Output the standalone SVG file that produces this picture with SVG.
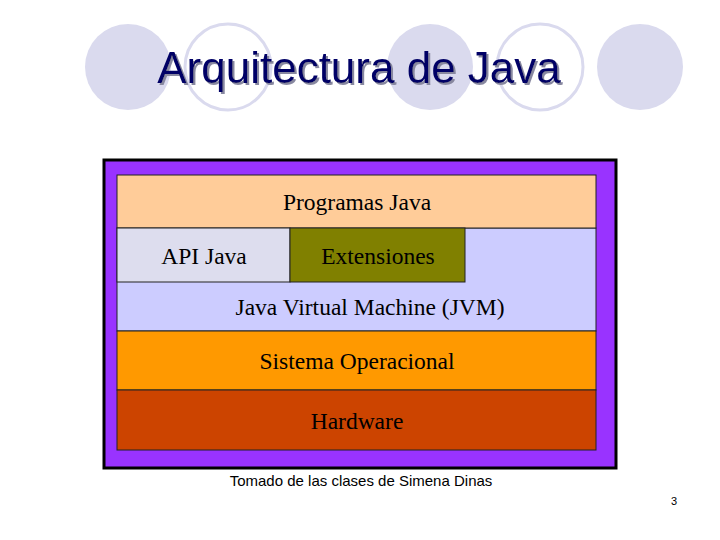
<svg xmlns="http://www.w3.org/2000/svg" width="720" height="540" viewBox="0 0 720 540">
<defs><filter id="sh" x="-10%" y="-30%" width="120%" height="160%"><feDropShadow dx="2" dy="2" stdDeviation="0.5" flood-color="#8888a0"/></filter></defs>
<style>
.c{fill:#dadaee}.o{fill:none;stroke:#dadaee;stroke-width:3}
.l{stroke:#222;stroke-width:1}
.t{font-family:"Liberation Serif",serif;font-size:23.5px;fill:#000;text-anchor:middle}
</style>
<rect width="720" height="540" fill="#fff"/>
<g id="decor">
<circle class="c" cx="128" cy="67" r="43"/>
<circle class="o" cx="228" cy="67" r="43"/>
<circle class="c" cx="430" cy="67" r="43"/>
<circle class="o" cx="540" cy="67" r="43"/>
<circle class="c" cx="640" cy="67" r="43"/>
</g>
<text x="359" y="83" font-family="Liberation Sans,Arial,sans-serif" font-size="44" fill="#000066" text-anchor="middle" filter="url(#sh)">Arquitectura de Java</text>
<g id="frame"><rect x="104" y="160" width="512" height="308" fill="#9933ff" stroke="#000" stroke-width="3"/></g>
<g id="jvm"><rect class="l" x="117" y="228" width="479" height="103" fill="#ccccff"/><text class="t" x="370" y="315">Java Virtual Machine (JVM)</text></g>
<g id="programas"><rect class="l" x="117" y="175" width="479" height="53" fill="#ffcc99"/><text class="t" x="357" y="210">Programas Java</text></g>
<g id="api"><rect class="l" x="117" y="228" width="173" height="54" fill="#ddddee"/><text class="t" x="204" y="264">API Java</text></g>
<g id="ext"><rect class="l" x="290" y="228" width="175" height="54" fill="#808000"/><text class="t" x="378" y="264">Extensiones</text></g>
<g id="so"><rect class="l" x="117" y="331" width="479" height="59" fill="#ff9900"/><text class="t" x="357" y="369">Sistema Operacional</text></g>
<g id="hw"><rect class="l" x="117" y="390" width="479" height="60" fill="#cc4400"/><text class="t" x="357" y="429">Hardware</text></g>
<text x="361" y="486" font-family="Liberation Sans,Arial,sans-serif" font-size="15" text-anchor="middle">Tomado de las clases de Simena Dinas</text>
<text x="677" y="505" font-family="Liberation Sans,Arial,sans-serif" font-size="11" text-anchor="end">3</text>
</svg>
